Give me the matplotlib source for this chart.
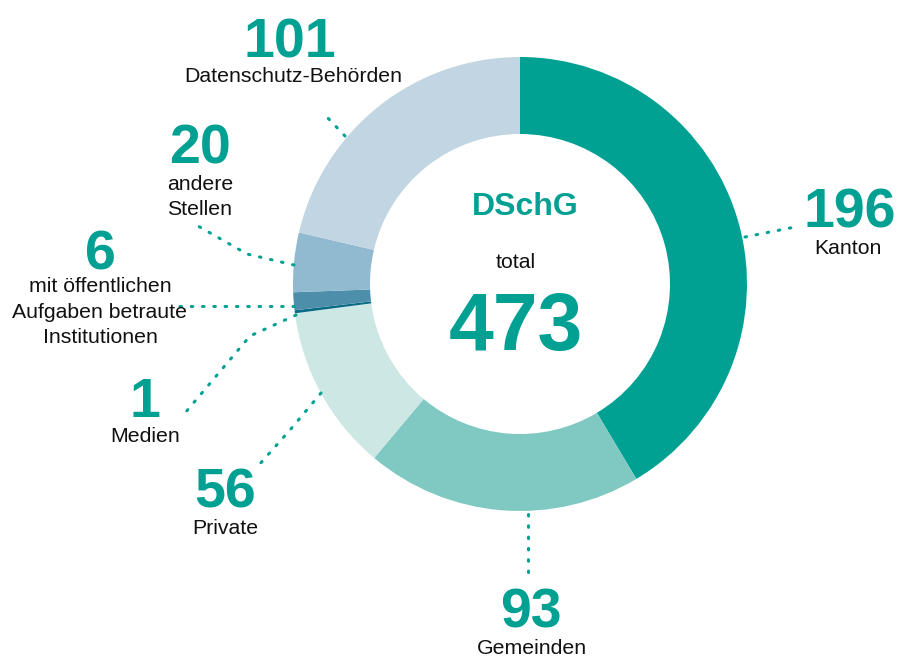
import numpy as np
import matplotlib.pyplot as plt

plt.rcParams['font.family'] = ['Liberation Sans', 'DejaVu Sans']

# Anzahl Fälle nach Kategorie (im Uhrzeigersinn ab 12 Uhr)
kategorien = ["Kanton", "Gemeinden", "Private", "Medien",
              "mit öffentlichen\nAufgaben betraute\nInstitutionen",
              "andere\nStellen", "Datenschutz-Behörden"]
werte = [196, 93, 56, 1, 6, 20, 101]
farben = ["#00a092", "#80c9c3", "#cce7e4", "#0a6b85",
          "#4d8eaa", "#91b9cf", "#c1d6e2"]
total = sum(werte)

TEAL = "#00a092"
W, H = 899, 657

fig = plt.figure(figsize=(W / 100, H / 100), dpi=100)
ax = fig.add_axes([0, 0, 1, 1])

# Ring (Pixelkoordinaten, y nach oben)
cx, cy = 520, H - 284
r_aussen, r_innen = 227, 150
ax.pie(werte, colors=farben, startangle=90, counterclock=False,
       center=(cx, cy), radius=r_aussen,
       wedgeprops=dict(width=r_aussen - r_innen, linewidth=0))

ax.set_xlim(0, W)
ax.set_ylim(0, H)
ax.set_aspect('equal')
ax.axis('off')


def py(y):
    return H - y


# Beschriftungen: (Zahl-Position, Text-Position, Führungslinie)
labels = [
    ((850, 214), (848, 248), [(745, 237), (800, 226)]),
    ((531, 614), (532, 648), [(528, 514), (528, 580)]),
    ((225, 494), (225, 529), [(321, 393), (290, 430), (258, 466)]),
    ((145, 403), (145, 437), [(296, 315), (250, 336), (185, 413)]),
    ((100, 255), (100, 312), [(294, 306), (174, 306)]),
    ((200, 150), (200, 197), [(294, 265), (247, 254), (198, 226)]),
    ((290, 43), (293, 77), [(345, 136), (325, 115)]),
]

for (wert, name, (pz, pt, linie)) in zip(werte, kategorien, labels):
    ax.text(pz[0], py(pz[1]), str(wert), ha='center', va='center',
            fontsize=40, fontweight='bold', color=TEAL)
    ax.text(pt[0], py(pt[1]), name, ha='center', va='center',
            fontsize=15.3, color='#111111', linespacing=1.42)
    xs = [p[0] for p in linie]
    ys = [py(p[1]) for p in linie]
    ax.plot(xs, ys, linestyle=(0, (0.5, 3.2)), linewidth=2.2,
            color=TEAL, dash_capstyle='round', solid_capstyle='round')

# Mitte
ax.text(525, py(207), "DSchG", ha='center', va='center',
        fontsize=23, fontweight='bold', color=TEAL)
ax.text(516, py(262), "total", ha='center', va='center',
        fontsize=15.3, color='#111111')
ax.text(516, py(329), str(total), ha='center', va='center',
        fontsize=58, fontweight='bold', color=TEAL)

fig.savefig("out.png", dpi=100, facecolor='white')
